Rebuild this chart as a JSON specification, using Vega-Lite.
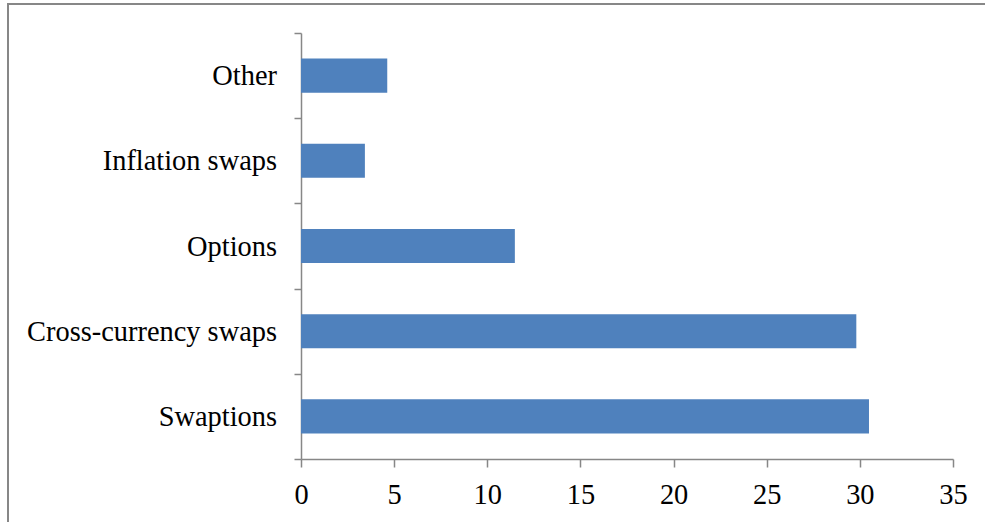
{
  "$schema": "https://vega.github.io/schema/vega-lite/v6.json",
  "width": 977,
  "height": 518,
  "autosize": {"type": "none"},
  "padding": {"left": 8, "top": 4, "right": 0, "bottom": 0},
  "background": "white",
  "config": {
    "view": {"stroke": "#878787", "strokeWidth": 2, "strokeDash": [977, 1495]},
    "axis": {
      "labelFont": "Liberation Serif",
      "labelFontSize": 28.4,
      "labelColor": "#000000",
      "labelLimit": 0,
      "domainColor": "#878787",
      "tickColor": "#878787",
      "domainWidth": 1.5,
      "tickWidth": 1.5,
      "grid": false,
      "title": null
    }
  },
  "data": {
    "values": [
      {"product": "Other", "share": 4.63},
      {"product": "Inflation swaps", "share": 3.43},
      {"product": "Options", "share": 11.48},
      {"product": "Cross-currency swaps", "share": 29.81},
      {"product": "Swaptions", "share": 30.49}
    ]
  },
  "mark": {"type": "bar", "color": "#4F81BD", "height": {"band": 0.4}},
  "encoding": {
    "y": {
      "field": "product",
      "type": "nominal",
      "sort": ["Other", "Inflation swaps", "Options", "Cross-currency swaps", "Swaptions"],
      "scale": {"range": [29, 455], "paddingInner": 0, "paddingOuter": 0},
      "axis": {
        "offset": -293,
        "tickBand": "extent",
        "tickSize": 7,
        "labelPadding": 17.5
      }
    },
    "x": {
      "field": "share",
      "type": "quantitative",
      "scale": {"domain": [0, 35], "range": [293, 945], "nice": false},
      "axis": {
        "offset": -63,
        "values": [0, 5, 10, 15, 20, 25, 30, 35],
        "tickSize": 8,
        "labelPadding": 14,
        "labelFlush": false,
        "labelOverlap": false
      }
    }
  }
}
